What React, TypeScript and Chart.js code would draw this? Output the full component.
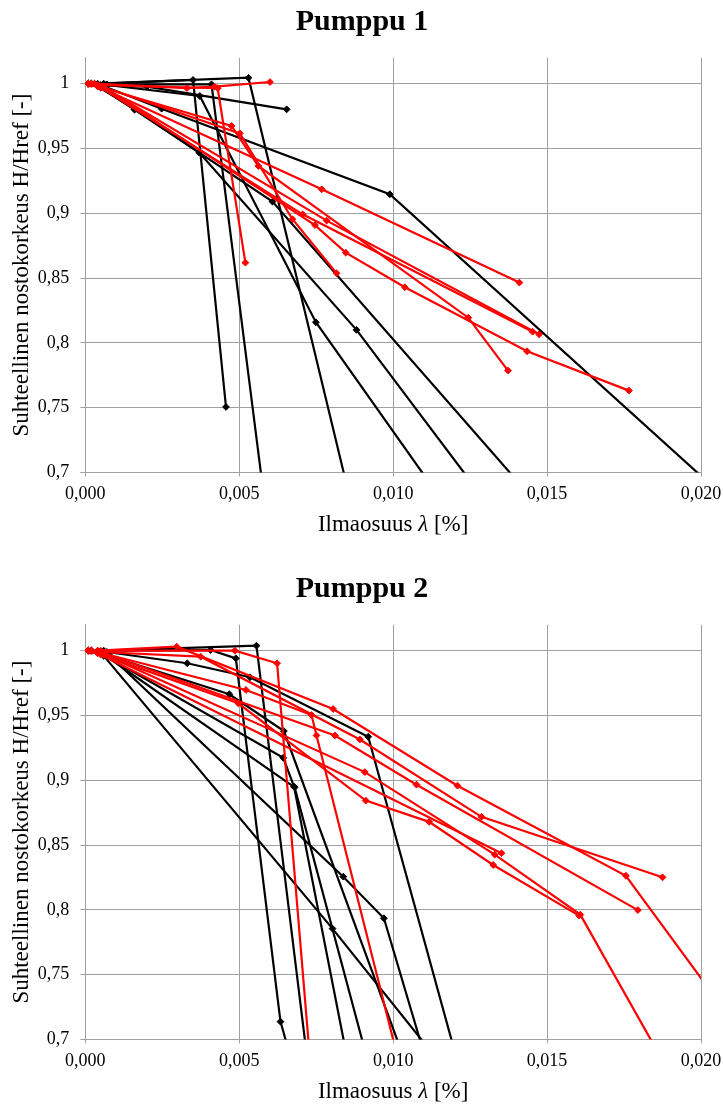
import React, { useEffect, useRef } from "react";
import { Chart, registerables } from "chart.js";

Chart.register(...registerables);

type Pt = [number, number];

// ---------- Pumppu 1 ----------
const p1Black: Pt[][] = [
  [[0.0001, 1.0], [0.0004, 1.0], [0.0053, 1.0046], [0.0089, 0.65]],
  [[0.0002, 1.0], [0.0006, 1.0], [0.0035, 1.0029], [0.00457, 0.7505]],
  [[0.0002, 1.0], [0.0007, 0.9995], [0.0041, 0.9995], [0.00597, 0.65]],
  [[0.0001, 1.0], [0.0005, 0.999], [0.00248, 0.9807], [0.00989, 0.9147], [0.0222, 0.65]],
  [[0.0003, 1.0], [0.0007, 0.9985], [0.002, 0.9977], [0.00654, 0.9802]],
  [[0.0001, 1.0], [0.0004, 0.998], [0.0016, 0.9802], [0.00608, 0.909], [0.01563, 0.65]],
  [[0.0002, 1.0], [0.0007, 0.999], [0.00372, 0.9905], [0.00749, 0.8159], [0.01243, 0.65]],
  [[0.0001, 1.0], [0.0005, 0.997], [0.0016, 0.98], [0.0037, 0.9468], [0.00881, 0.81], [0.01388, 0.65]],
];

const p1Red: Pt[][] = [
  [[0.0001, 1.0], [0.0003, 1.0], [0.0033, 0.9966], [0.0042, 0.9977], [0.006, 1.0013]],
  [[0.0002, 1.0], [0.0004, 0.999], [0.0043, 0.9965], [0.0052, 0.8619]],
  [[0.0001, 1.0], [0.0005, 0.998], [0.00502, 0.9617], [0.00673, 0.8954], [0.00816, 0.8537]],
  [[0.0001, 1.0], [0.0004, 0.998], [0.00768, 0.9185], [0.0141, 0.8465]],
  [[0.0002, 1.0], [0.0006, 0.997], [0.00746, 0.8909], [0.00846, 0.8696], [0.01038, 0.8429], [0.01435, 0.7935], [0.01766, 0.7631]],
  [[0.0001, 1.0], [0.0004, 0.998], [0.00475, 0.9674], [0.00562, 0.9365], [0.01244, 0.8194], [0.01373, 0.7786]],
  [[0.0002, 1.0], [0.0005, 0.997], [0.00706, 0.8992], [0.01453, 0.8086]],
  [[0.0001, 1.0], [0.0006, 0.997], [0.00784, 0.8943], [0.01474, 0.8066]],
];

// ---------- Pumppu 2 ----------
const p2Black: Pt[][] = [
  [[0.0001, 1.0], [0.0004, 1.0], [0.00407, 1.0005], [0.00489, 0.9941], [0.00634, 0.7137], [0.0071, 0.65]],
  [[0.0002, 1.0], [0.0006, 1.0], [0.00556, 1.0039], [0.00739, 0.65]],
  [[0.0001, 1.0], [0.0005, 0.998], [0.00643, 0.9174], [0.00678, 0.8951], [0.0088, 0.65]],
  [[0.0002, 1.0], [0.0008, 0.996], [0.00838, 0.8256], [0.0097, 0.7935], [0.01149, 0.65]],
  [[0.0001, 1.0], [0.0006, 0.996], [0.00803, 0.7855], [0.0126, 0.65]],
  [[0.0002, 1.0], [0.0007, 0.999], [0.00331, 0.9903], [0.00535, 0.9795], [0.00919, 0.9336], [0.01247, 0.65]],
  [[0.0001, 1.0], [0.0005, 0.998], [0.00468, 0.9664], [0.00645, 0.938], [0.0109, 0.65]],
  [[0.0002, 1.0], [0.0006, 0.997], [0.0068, 0.8945], [0.00955, 0.65]],
];

const p2Red: Pt[][] = [
  [[0.0001, 1.0], [0.0004, 1.0], [0.00297, 1.0031], [0.00805, 0.955], [0.01209, 0.8958], [0.01756, 0.8263], [0.023, 0.65]],
  [[0.0001, 1.0], [0.0005, 0.999], [0.00375, 0.9954], [0.00892, 0.9315], [0.01287, 0.8718], [0.01875, 0.8251]],
  [[0.0002, 1.0], [0.0005, 1.0], [0.00486, 1.0], [0.00623, 0.9903], [0.00742, 0.65]],
  [[0.0001, 1.0], [0.0004, 0.999], [0.00522, 0.9697], [0.00735, 0.9504], [0.00751, 0.9346], [0.01053, 0.65]],
  [[0.0002, 1.0], [0.0006, 0.998], [0.00811, 0.9346], [0.01076, 0.8966], [0.01795, 0.7998]],
  [[0.0001, 1.0], [0.0005, 0.997], [0.00497, 0.9594], [0.00911, 0.8843], [0.01117, 0.8679], [0.01325, 0.8346], [0.01604, 0.7955]],
  [[0.0002, 1.0], [0.0006, 0.997], [0.00908, 0.9063], [0.0133, 0.8426], [0.01608, 0.7963], [0.01955, 0.65]],
  [[0.0001, 1.0], [0.0004, 0.998], [0.01352, 0.8437]],
];

const xTicks = [0, 0.005, 0.01, 0.015, 0.02];
const yTicks = [0.7, 0.75, 0.8, 0.85, 0.9, 0.95, 1.0];

const xTitleParts = ["Ilmaosuus ", "λ", " [%]"];
const yTitle = "Suhteellinen nostokorkeus H/Href [-]";

const FONT = '"Liberation Serif", "Times New Roman", serif';
const GRID = "#a0a0a0";

const PLOT_TOP = 57.8;
const PLOT_BOTTOM = 472.4;
const PLOT_LEFT = 85.3;
const RIGHT_PAD = 22;

function makeDatasets(lines: Pt[][], color: string) {
  return lines.map((pts) => ({
    data: pts.map(([x, y]) => ({ x, y })),
    showLine: true,
    borderColor: color,
    backgroundColor: color,
    borderWidth: 2.2,
    pointStyle: "rectRot" as const,
    pointRadius: 3.4,
    pointBorderWidth: 1,
    pointBorderColor: color,
    pointBackgroundColor: color,
    tension: 0,
  }));
}

function PumpChart({ title, black, red, height }: { title: string; black: Pt[][]; red: Pt[][]; height: number }) {
  const ref = useRef<HTMLCanvasElement | null>(null);
  useEffect(() => {
    if (!ref.current) return;
    const textPlugin = {
      id: "texts",
      afterDraw(chart: any) {
        const ctx = chart.ctx as CanvasRenderingContext2D;
        const area = chart.chartArea;
        ctx.save();
        ctx.fillStyle = "#000";
        ctx.font = `bold 30px ${FONT}`;
        ctx.textAlign = "center";
        ctx.textBaseline = "alphabetic";
        ctx.fillText(title, 362, 30);
        const normal = `23px ${FONT}`;
        const italic = `italic 23px ${FONT}`;
        const fonts = [normal, italic, normal];
        let total = 0;
        const widths = xTitleParts.map((t, i) => {
          ctx.font = fonts[i];
          const w = ctx.measureText(t).width;
          total += w;
          return w;
        });
        let x = (area.left + area.right) / 2 - total / 2;
        ctx.textAlign = "left";
        xTitleParts.forEach((t, i) => {
          ctx.font = fonts[i];
          ctx.fillText(t, x, 530.7);
          x += widths[i];
        });
        ctx.font = normal;
        ctx.textAlign = "center";
        ctx.translate(27.6, (area.top + area.bottom) / 2);
        ctx.rotate(-Math.PI / 2);
        ctx.fillText(yTitle, 0, 0);
        ctx.restore();
      },
    };

    const chart = new Chart(ref.current, {
      type: "scatter",
      data: { datasets: [...makeDatasets(red, "#ff0000"), ...makeDatasets(black, "#000000")] as any },
      options: {
        responsive: false,
        animation: false,
        devicePixelRatio: 1,
        layout: { padding: { top: PLOT_TOP, right: RIGHT_PAD, left: 0, bottom: 0 } },
        plugins: { legend: { display: false }, tooltip: { enabled: false }, title: { display: false } },
        scales: {
          x: {
            type: "linear",
            min: 0,
            max: 0.02,
            afterBuildTicks: (s: any) => {
              s.ticks = xTicks.map((v) => ({ value: v }));
            },
            afterFit: (s: any) => {
              s.height = height - PLOT_BOTTOM;
              s.paddingLeft = 0;
              s.paddingRight = 0;
            },
            ticks: {
              color: "#000",
              font: { family: FONT, size: 18 },
              padding: 7,
              maxRotation: 0,
              autoSkip: false,
              callback: (v: any) => Number(v).toFixed(3).replace(".", ","),
            },
            grid: { color: GRID, lineWidth: 1, tickLength: 4 },
            border: { color: GRID },
          },
          y: {
            type: "linear",
            min: 0.7,
            max: 1.02,
            afterBuildTicks: (s: any) => {
              s.ticks = yTicks.map((v) => ({ value: v }));
            },
            afterFit: (s: any) => {
              s.width = PLOT_LEFT;
            },
            ticks: {
              color: "#000",
              font: { family: FONT, size: 18 },
              padding: 11,
              autoSkip: false,
              callback: (v: any) => String(Number(Number(v).toFixed(2))).replace(".", ","),
            },
            grid: { color: GRID, lineWidth: 1, tickLength: 5 },
            border: { color: GRID },
          },
        },
      } as any,
      plugins: [textPlugin],
    });
    return () => chart.destroy();
  }, [title, black, red, height]);
  return <canvas ref={ref} width={723} height={height} style={{ display: "block", width: 723, height }} />;
}

export default function App() {
  return (
    <div style={{ position: "absolute", left: 0, top: 0, width: 723, height: 1104, background: "#fff", overflow: "hidden" }}>
      <div style={{ position: "absolute", left: 0, top: 0 }}>
        <PumpChart title="Pumppu 1" black={p1Black} red={p1Red} height={567} />
      </div>
      <div style={{ position: "absolute", left: 0, top: 567 }}>
        <PumpChart title="Pumppu 2" black={p2Black} red={p2Red} height={537} />
      </div>
    </div>
  );
}
